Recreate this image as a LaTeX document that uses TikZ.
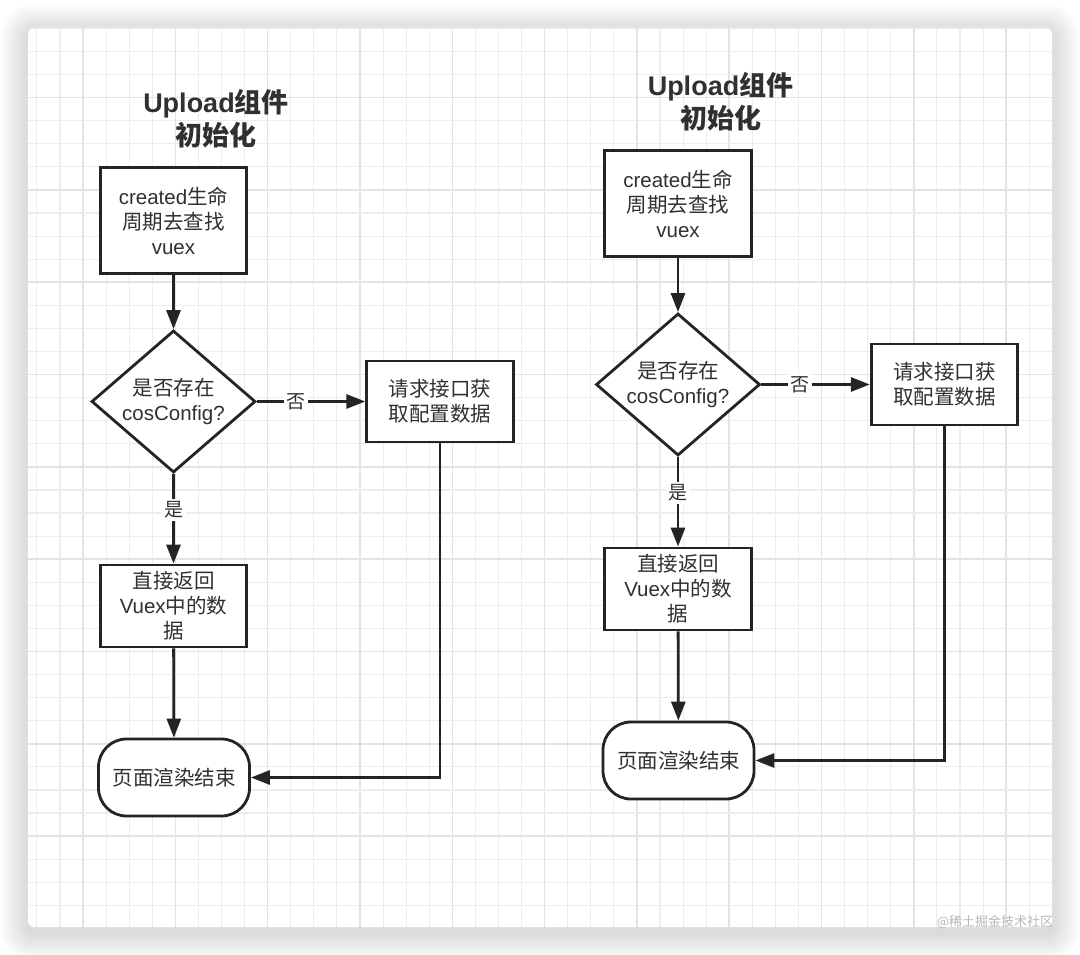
\documentclass[tikz,border=0pt]{standalone}
\usepackage{fontspec}
\setmainfont{Liberation Sans}
\newfontfamily\cjk{Noto Sans CJK SC}
\newcommand\zh[1]{{\cjk #1}}
\usetikzlibrary{arrows.meta,shapes.geometric}
\definecolor{ink}{HTML}{242424}
\definecolor{txt}{HTML}{303030}
\definecolor{gminor}{HTML}{EDEDED}
\definecolor{gmajor}{HTML}{E3E3E3}
\tikzset{
  proc/.style={draw=ink, line width=2.8pt, fill=white, minimum width=146.5pt, inner sep=0pt, align=center, text=txt, font=\fontsize{20.5}{25}\selectfont},
  dia/.style={draw=ink, line width=2.8pt, fill=white, diamond, minimum width=164pt, minimum height=142pt, inner sep=0pt},
  term/.style={draw=ink, line width=2.8pt, fill=white, rounded corners=28pt, minimum width=151pt, minimum height=77pt, inner sep=0pt, align=center, text=txt, font=\fontsize{20.5}{25}\selectfont},
  inner/.style={align=center, text=txt, inner sep=0pt, font=\fontsize{20.5}{25}\selectfont},
  arr/.style={draw=ink, line width=2.8pt, -{Triangle[length=19pt,width=14pt]}},
  lab/.style={fill=white, inner sep=2.5pt, text=txt, font=\cjk\fontsize{19}{19}\selectfont},
  ttl/.style={align=center, text=txt, inner sep=0pt, font=\bfseries\fontsize{27}{33}\selectfont},
}
\begin{document}
\begin{tikzpicture}[x=1pt,y=-1pt]
\useasboundingbox (0,0) rectangle (1080,955);
\fill[white] (0,0) rectangle (1080,955);
% shadow
\foreach \i in {1,...,18}{
  \pgfmathsetmacro\e{\i*1.6}
  \pgfmathsetmacro\r{6+\i*1.6}
  \fill[black, opacity=0.009, rounded corners=\r pt] ({28-\e},{28-\e+4}) rectangle ({1052+\e},{927+\e+6});
}
% card
\fill[white, rounded corners=6pt] (28,28) rectangle (1052,927);
\begin{scope}
  \clip[rounded corners=6pt] (28,28) rectangle (1052,927);
  \foreach \k in {-1,...,43}{
    \pgfmathsetmacro\xx{60+23.077*\k}
    \pgfmathtruncatemacro\mm{mod(\k+8,4)}
    \ifnum\mm=1
      \draw[gmajor, line width=1.6pt] (\xx,28) -- (\xx,927);
    \else
      \draw[gminor, line width=1.1pt] (\xx,28) -- (\xx,927);
    \fi
  }
  \foreach \k in {-1,...,38}{
    \pgfmathsetmacro\yy{51.5+23.077*\k}
    \pgfmathtruncatemacro\mm{mod(\k+8,4)}
    \ifnum\mm=2
      \draw[gmajor, line width=1.6pt] (28,\yy) -- (1052,\yy);
    \else
      \draw[gminor, line width=1.1pt] (28,\yy) -- (1052,\yy);
    \fi
  }
\end{scope}
% two flowcharts
\foreach \s/\dx/\dy in {L/0/0, R/504.5/-17}{
\begin{scope}[shift={(\dx,\dy)}]
  \node[ttl] (title\s) at (216,118.5) {Upload\zh{组件}\\\zh{初始化}};
  \node[proc, minimum height=106pt] (b1\s) at (173.5,220.5) {created\zh{生命}\\\zh{周期去查找}\\vuex};
  \node[dia] (d\s) at (173.5,401.5) {};
  \node[inner] (dt\s) at (173.5,402) {\zh{是否存在}\\cosConfig?};
  \node[proc, minimum height=81pt] (b2\s) at (440,401.5) {\zh{请求接口获}\\\zh{取配置数据}};
  \node[proc, minimum height=82pt] (b3\s) at (173.5,606) {\zh{直接返回}\\Vuex\zh{中的数}\\\zh{据}};
  \node[term] (t\s) at (174,777.5) {\zh{页面渲染结束}};
  \draw[arr] (b1\s) -- (d\s);
  \draw[arr] (d\s) -- node[lab, pos=0.36] {否} (b2\s);
  \draw[arr] (d\s) -- node[lab, pos=0.4] {是} (b3\s);
  \draw[arr] (b3\s) -- (t\s);
  \draw[arr] (b2\s.south) |- (t\s.east);
\end{scope}
}
\node[text=black!28, inner sep=0pt, font=\cjk\fontsize{13}{13}\selectfont] (wm) at (995,922) {@稀土掘金技术社区};
\end{tikzpicture}
\end{document}
